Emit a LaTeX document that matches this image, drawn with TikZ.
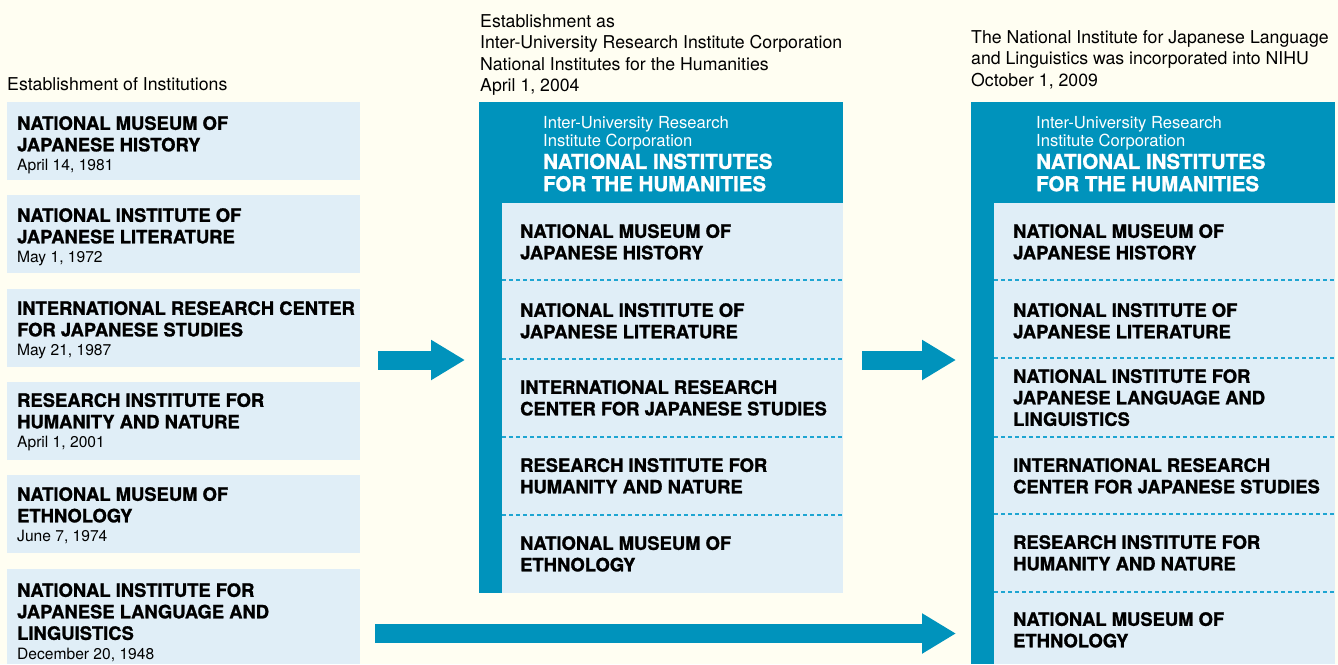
\documentclass[tikz,border=0pt]{standalone}
\usepackage{fontspec}
\setmainfont{TeX Gyre Heros}[BoldFeatures={FakeBold=1.2}]
\usetikzlibrary{arrows.meta}

\definecolor{paper}{RGB}{255,254,242}
\definecolor{pale}{RGB}{224,238,247}
\definecolor{nihu}{RGB}{0,147,188}
\definecolor{sepblue}{RGB}{30,165,210}

\tikzset{
  heading/.style={anchor=north west, inner sep=0, align=left, font=\fontsize{17.7}{21.2}\selectfont},
  inst/.style={anchor=north west, inner sep=0, align=left, font=\fontsize{18.4}{21.5}\selectfont\bfseries},
  corp/.style={anchor=north west, inner sep=0, align=left, text=white, font=\fontsize{16.6}{17.7}\selectfont},
  corpbold/.style={anchor=north west, inner sep=0, align=left, text=white, font=\fontsize{20.5}{22.3}\selectfont\bfseries},
  sepline/.style={draw=sepblue, line width=1.2pt, dash pattern=on 4pt off 3pt},
  flowarrow/.style={draw=nihu, line width=19pt, -{Triangle[length=34pt,width=38pt]}},
}
\newcommand{\founded}[1]{{\fontsize{15.6}{21.5}\selectfont\mdseries #1}}

\begin{document}
\begin{tikzpicture}[x=1pt,y=-1pt]
		\fill[paper] (0,0) rectangle (1338,664);
		\useasboundingbox (0,0) rectangle (1338,664);
		%Before
		\node[heading] (title-before) at (7,77) {Establishment of Institutions};
		\fill[pale] (7,102) rectangle (360,180);
		\fill[pale] (7,195) rectangle (360,273);
		\fill[pale] (7,289) rectangle (360,367);
		\fill[pale] (7,382) rectangle (360,460);
		\fill[pale] (7,475) rectangle (360,553);
		\fill[pale] (7,569) rectangle (360,664);
		\node[inst] (history) at (17,116) {NATIONAL MUSEUM OF\\JAPANESE HISTORY\\[-2pt]\founded{April 14, 1981}};
		\node[inst] (literature) at (17,208) {NATIONAL INSTITUTE OF\\JAPANESE LITERATURE\\[-2pt]\founded{May 1, 1972}};
		\node[inst] (nichibun) at (17,301) {INTERNATIONAL RESEARCH CENTER\\FOR JAPANESE STUDIES\\[-2pt]\founded{May 21, 1987}};
		\node[inst] (nature) at (17,393) {RESEARCH INSTITUTE FOR\\HUMANITY AND NATURE\\[-2pt]\founded{April 1, 2001}};
		\node[inst] (ethnology) at (17,487) {NATIONAL MUSEUM OF\\ETHNOLOGY\\[-2pt]\founded{June 7, 1974}};
		\node[inst] (language) at (17,583) {NATIONAL INSTITUTE FOR\\JAPANESE LANGUAGE AND\\LINGUISTICS\\[-1.5pt]\founded{December 20, 1948}};
		
		%2004
		\node[heading] (title-2004) at (480,14.5) {Establishment as\\Inter-University Research Institute Corporation\\National Institutes for the Humanities\\April 1, 2004};
		\fill[nihu] (479,102) rectangle (843,593);
		\fill[pale] (502,203) rectangle (843,593);
		\node[corp] (corp-2004) at (543,116) {Inter-University Research\\Institute Corporation};
		\node[corpbold] (nihu-2004) at (543,153.5) {NATIONAL INSTITUTES\\FOR THE HUMANITIES};
		\draw[sepline] (502,280)--(843,280);
		\draw[sepline] (502,359)--(843,359);
		\draw[sepline] (502,437)--(843,437);
		\draw[sepline] (502,515)--(843,515);
		\node[inst] (history-2004) at (520,224) {NATIONAL MUSEUM OF\\JAPANESE HISTORY};
		\node[inst] (literature-2004) at (520,303) {NATIONAL INSTITUTE OF\\JAPANESE LITERATURE};
		\node[inst] (nichibun-2004) at (520,380) {INTERNATIONAL RESEARCH\\CENTER FOR JAPANESE STUDIES};
		\node[inst] (nature-2004) at (520,458) {RESEARCH INSTITUTE FOR\\HUMANITY AND NATURE};
		\node[inst] (ethnology-2004) at (520,536) {NATIONAL MUSEUM OF\\ETHNOLOGY};
		
		%2009
		\node[heading] (title-2009) at (971,30.5) {The National Institute for Japanese Language\\and Linguistics was incorporated into NIHU\\October 1, 2009};
		\fill[nihu] (971,102) rectangle (1335,664);
		\fill[pale] (994,203) rectangle (1335,664);
		\node[corp] (corp-2009) at (1036,116) {Inter-University Research\\Institute Corporation};
		\node[corpbold] (nihu-2009) at (1036,153.5) {NATIONAL INSTITUTES\\FOR THE HUMANITIES};
		\draw[sepline] (994,280)--(1335,280);
		\draw[sepline] (994,358)--(1335,358);
		\draw[sepline] (994,437)--(1335,437);
		\draw[sepline] (994,514)--(1335,514);
		\draw[sepline] (994,592)--(1335,592);
		\node[inst] (history-2009) at (1013,224) {NATIONAL MUSEUM OF\\JAPANESE HISTORY};
		\node[inst] (literature-2009) at (1013,303) {NATIONAL INSTITUTE OF\\JAPANESE LITERATURE};
		\node[inst] (language-2009) at (1013,369) {NATIONAL INSTITUTE FOR\\JAPANESE LANGUAGE AND\\LINGUISTICS};
		\node[inst] (nichibun-2009) at (1013,458) {INTERNATIONAL RESEARCH\\CENTER FOR JAPANESE STUDIES};
		\node[inst] (nature-2009) at (1013,535) {RESEARCH INSTITUTE FOR\\HUMANITY AND NATURE};
		\node[inst] (ethnology-2009) at (1013,612) {NATIONAL MUSEUM OF\\ETHNOLOGY};
		
		%Arrows
		\coordinate (from-2004) at (378,360);
		\coordinate (to-2004) at (465,360);
		\coordinate (from-2009) at (862,360);
		\coordinate (to-2009) at (956,360);
		\coordinate (from-language) at (375,633.5);
		\coordinate (to-language) at (956,633.5);
		\draw[flowarrow] (from-2004)--(to-2004);
		\draw[flowarrow] (from-2009)--(to-2009);
		\draw[flowarrow] (from-language)--(to-language);
	\end{tikzpicture}
\end{document}
